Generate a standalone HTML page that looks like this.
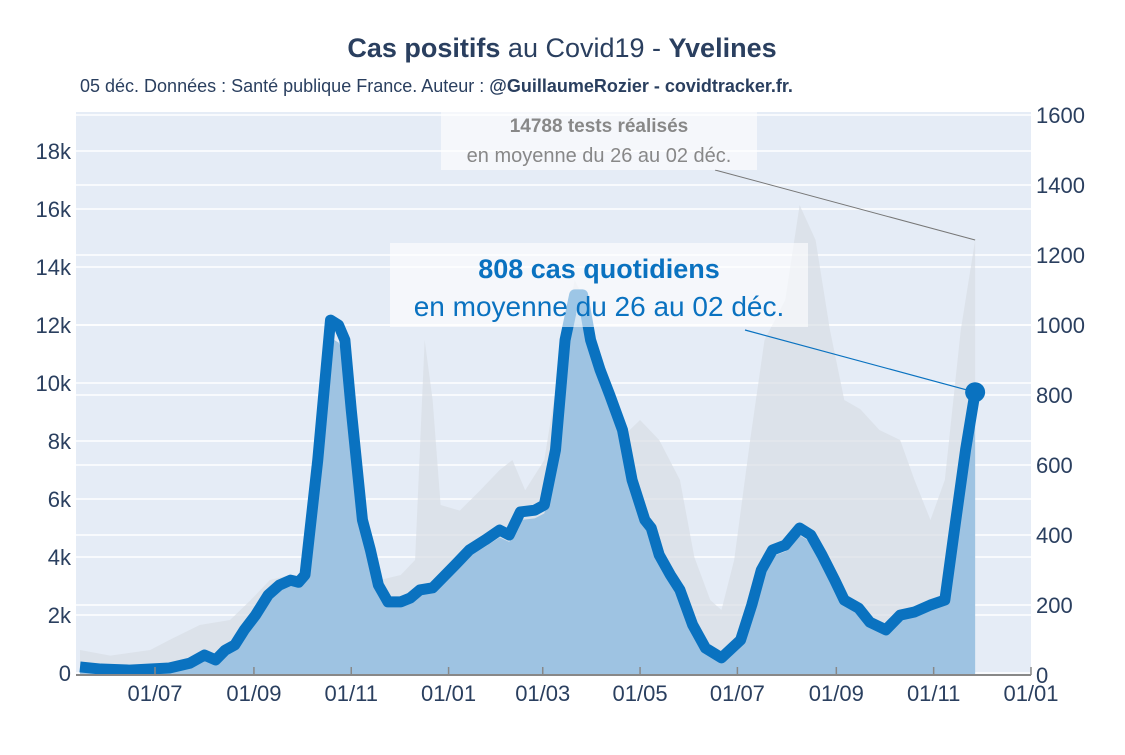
<!DOCTYPE html>
<html><head><meta charset="utf-8">
<style>
body{margin:0;background:#fff;font-family:"Liberation Sans",sans-serif;}
svg text{font-family:"Liberation Sans",sans-serif;}
</style></head>
<body>
<svg id="chart" width="1125" height="750" xmlns="http://www.w3.org/2000/svg">
<text x="562" y="57" text-anchor="middle" font-size="27" fill="#2a3f5f"><tspan font-weight="bold">Cas positifs</tspan> au Covid19 - <tspan font-weight="bold">Yvelines</tspan></text>
<text x="80" y="92" font-size="18" fill="#2a3f5f">05 déc. Données : Santé publique France. Auteur : <tspan font-weight="bold">@GuillaumeRozier - covidtracker.fr.</tspan></text>
<rect x="76" y="112" width="955" height="563" fill="#e5ecf6"/>
<g id="grid"></g>
<g id="marks"></g>
<g id="axes"></g>
<g id="annot"></g>
</svg>
<script>
// day offsets from 2020-07-01
const caseDays=[-47,-34,-16,9,22,31,38,44,50,56,63,71,78,85,90,94,102,110,115,119,123,130,135,140,146,154,160,166,174,182,188,197,207,216,222,229,238,244,251,257,263,268,273,279,285,293,299,307,311,316,323,329,337,345,355,367,374,380,387,395,404,411,418,426,432,441,448,458,467,476,486,495,501,508,514];
const caseVals=[23,17,14,20,34,57,43,71,86,129,171,229,257,271,265,286,614,1014,1000,957,757,443,357,257,209,209,220,243,249,286,314,357,386,414,400,466,471,486,643,957,1086,1086,957,871,800,700,557,443,420,343,286,243,143,77,49,100,200,300,357,371,420,400,343,271,214,191,151,129,171,180,200,214,414,643,808];
const testDays=[-47,-28,-3,9,28,47,60,72,85,91,102,110,119,128,141,154,163,169,174,179,191,204,216,224,232,244,254,263,269,279,291,304,316,329,338,348,355,363,373,382,395,404,414,423,432,442,454,467,476,486,495,505,514];
const testVals=[793,600,793,1138,1655,1828,2517,3207,3379,3379,5276,5448,5276,3897,3207,3379,3897,11483,9414,5793,5600,6310,7000,7345,6300,7345,10793,13552,12900,8724,8034,8724,8034,6655,4000,2517,2172,3900,8034,11483,12862,16138,14931,11828,9414,9100,8379,8034,6655,5276,6655,11828,14931];
const leftTicks=[0,2000,4000,6000,8000,10000,12000,14000,16000,18000];
const leftLabels=["0","2k","4k","6k","8k","10k","12k","14k","16k","18k"];
const rightTicks=[0,200,400,600,800,1000,1200,1400,1600];
const xTickDays=[0,62,123,184,243,304,365,427,488,549];
const xTickLabels=["01/07","01/09","01/11","01/01","01/03","01/05","01/07","01/09","01/11","01/01"];

const NS="http://www.w3.org/2000/svg";
const X=d=>155+d*1.5956;
const YL=v=>673-v*0.029;
const YR=v=>675-v*0.35;
function mk(tag,attrs,parent){const e=document.createElementNS(NS,tag);for(const k in attrs)e.setAttribute(k,attrs[k]);document.getElementById(parent).appendChild(e);return e;}

leftTicks.forEach((t,i)=>{
  const g=mk('line',{x1:76,x2:1031,y1:YL(t),y2:YL(t),stroke:'#fff','stroke-width':1.5},'grid');
  
  
  const l=mk('text',{x:71,y:YL(t)+8,'text-anchor':'end','font-size':22,fill:'#2a3f5f'},'axes');
  l.textContent=leftLabels[i];
  
  
});
rightTicks.forEach(t=>{
  const g=mk('line',{x1:76,x2:1031,y1:YR(t),y2:YR(t),stroke:'#fff','stroke-width':1.5},'grid');
  
  
  const l=mk('text',{x:1036,y:YR(t)+8,'font-size':22,fill:'#2a3f5f'},'axes');
  l.textContent=String(t);
  
  
});

// tests area
let p='M'+X(testDays[0])+','+YL(0);
testDays.forEach((d,i)=>p+=' L'+X(d)+','+YL(testVals[i]));
p+=' L'+X(testDays[testDays.length-1])+','+YL(0)+' Z';
const ta=mk('path',{d:p,fill:'#d9dee6',opacity:0.7},'marks');



let c='M'+X(caseDays[0])+','+YR(0);
caseDays.forEach((d,i)=>c+=' L'+X(d)+','+YR(caseVals[i]*0.95));
c+=' L'+X(caseDays[caseDays.length-1])+','+YR(0)+' Z';
const ca=mk('path',{d:c,fill:'#9ec3e2'},'marks');



let l='';
caseDays.forEach((d,i)=>l+=(i?' L':'M')+X(d)+','+YR(caseVals[i]));
const ln=mk('path',{d:l,fill:'none',stroke:'#0a72c0','stroke-width':11,'stroke-linejoin':'round'},'marks');


const lastX=X(caseDays[caseDays.length-1]), lastY=YR(caseVals[caseVals.length-1]);
const mkr=mk('circle',{cx:lastX,cy:lastY,r:10,fill:'#0a72c0'},'marks');



const ax=mk('line',{x1:76,x2:1031,y1:675,y2:675,stroke:'#888','stroke-width':2},'axes');


xTickDays.forEach((d,i)=>{
  const t=mk('line',{x1:X(d),x2:X(d),y1:675,y2:667,stroke:'#888','stroke-width':1.5},'axes');
  
  
  const tl=mk('text',{x:X(d),y:701,'text-anchor':'middle','font-size':22,fill:'#2a3f5f'},'axes');
  tl.textContent=xTickLabels[i];
  
  
});

// annotations
const tlx=X(testDays[testDays.length-1]), tly=YL(testVals[testVals.length-1]);
const a1=mk('line',{x1:715,y1:170,x2:tlx,y2:tly,stroke:'#777','stroke-width':1},'annot');


const b1=mk('rect',{x:441,y:108,width:316,height:62,fill:'#fff',opacity:0.6},'annot');


const t1=mk('text',{x:599,y:132,'text-anchor':'middle','font-size':19,'font-weight':'bold',fill:'#888'},'annot');
t1.textContent='14788 tests réalisés';


const t2=mk('text',{x:599,y:162,'text-anchor':'middle','font-size':20,fill:'#888'},'annot');
t2.textContent='en moyenne du 26 au 02 déc.';


const a2=mk('line',{x1:745,y1:330,x2:lastX,y2:lastY,stroke:'#0a72c0','stroke-width':1.2},'annot');


const b2=mk('rect',{x:390,y:243,width:418,height:84,fill:'#fff',opacity:0.6},'annot');


const t3=mk('text',{x:599,y:278,'text-anchor':'middle','font-size':27,'font-weight':'bold',fill:'#0a72c0'},'annot');
t3.textContent='808 cas quotidiens';


const t4=mk('text',{x:599,y:316,'text-anchor':'middle','font-size':28,fill:'#0a72c0'},'annot');
t4.textContent='en moyenne du 26 au 02 déc.';


</script>
</body></html>
